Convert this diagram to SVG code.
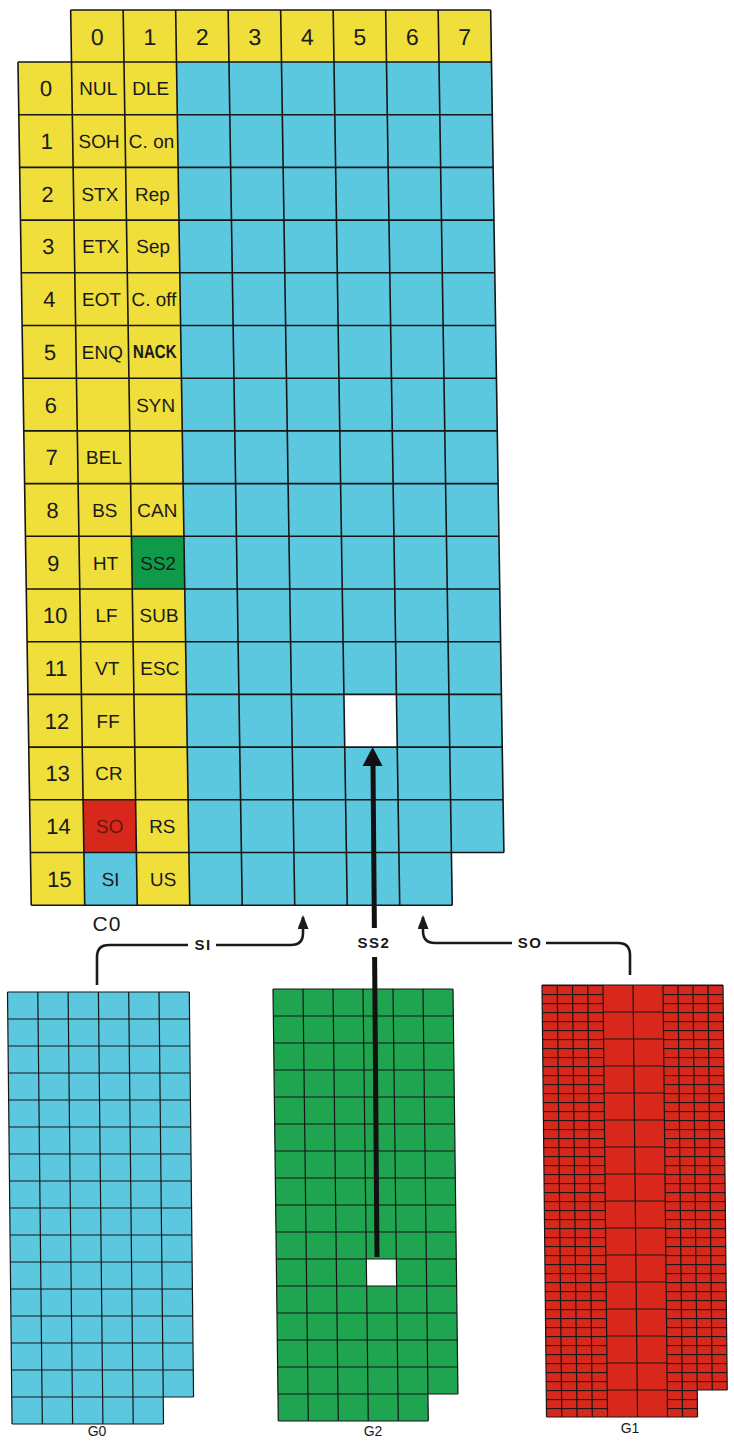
<svg xmlns="http://www.w3.org/2000/svg" width="734" height="1441" viewBox="0 0 734 1441">
<defs>
<style>
.y{fill:#F0DE3A}
.b{fill:#5CC8DF}
.g{fill:#1FA54F}
.r{fill:#D8281C}
.w{fill:#FFFFFF}
.gl{fill:none;stroke:#161616;stroke-width:1.6}
.gs{fill:none;stroke:#161616;stroke-width:1.2}
.t{font-family:"Liberation Sans",Arial,sans-serif;fill:#1a1a1a;text-anchor:middle}
.hd{font-size:23px}
.rl{font-size:22px}
.c{font-size:19px}
.lb{font-size:15px;font-weight:bold;letter-spacing:1.5px}
.gn{font-size:14px}
.cn{fill:none;stroke:#1a1a1a;stroke-width:2.6}
</style>
<pattern id="fine" width="20" height="9" patternUnits="userSpaceOnUse">
<rect width="20" height="9" fill="#D8281C"/>
<path d="M0 0.5H20" stroke="#161616" stroke-width="1.1"/>
</pattern>
<marker id="ah" viewBox="0 0 14 11" refX="12" refY="5.5" markerWidth="14" markerHeight="11" markerUnits="userSpaceOnUse" orient="auto">
<path d="M0 0L14 5.5L0 11Z" fill="#1a1a1a"/>
</marker>
</defs>
<rect width="734" height="1441" fill="#FFFFFF"/>

<g id="C0" transform="skewX(0.9)">
<rect class="y" x="70.5" y="10" width="420" height="52"/>
<rect class="y" x="17" y="62" width="158.5" height="843.2"/>
<rect class="b" x="175.5" y="62" width="315" height="790.5"/>
<rect class="b" x="175.5" y="852.5" width="262.5" height="52.7"/>
<rect class="g" x="123" y="536.3" width="52.5" height="52.7" style="fill:#0E9A48"/>
<rect class="r" x="70.5" y="799.8" width="52.5" height="52.7"/>
<rect class="b" x="70.5" y="852.5" width="52.5" height="52.7"/>
<rect class="w" x="333" y="694.4" width="52.5" height="52.7"/>
<path class="gl" d="M70.5 10H490.5M17 62H490.5M17 114.7H490.5M17 167.4H490.5M17 220.1H490.5M17 272.8H490.5M17 325.5H490.5M17 378.2H490.5M17 430.9H490.5M17 483.6H490.5M17 536.3H490.5M17 589H490.5M17 641.7H490.5M17 694.4H490.5M17 747.1H490.5M17 799.8H490.5M17 852.5H490.5M17 905.2H438M17 62V905.2M70.5 10V905.2M123 10V905.2M175.5 10V905.2M228 10V905.2M280.5 10V905.2M333 10V905.2M385.5 10V905.2M438 10V905.2M490.5 10V852.5"/>
<g class="t hd">
<text x="96.75" y="45">0</text><text x="149.25" y="45">1</text><text x="201.75" y="45">2</text><text x="254.25" y="45">3</text><text x="306.75" y="45">4</text><text x="359.25" y="45">5</text><text x="411.75" y="45">6</text><text x="464.25" y="45">7</text>
</g>
<g class="t rl">
<text x="44.5" y="96.4">0</text><text x="44.5" y="149">1</text><text x="44.5" y="201.8">2</text><text x="44.5" y="254.5">3</text><text x="44.5" y="307.2">4</text><text x="44.5" y="359.9">5</text><text x="44.5" y="412.6">6</text><text x="44.5" y="465.3">7</text><text x="44.5" y="518">8</text><text x="44.5" y="570.7">9</text><text x="45.5" y="623.4">10</text><text x="45.5" y="676">11</text><text x="45.5" y="728.8">12</text><text x="45.5" y="781.5">13</text><text x="45.5" y="834.2">14</text><text x="45.5" y="886.9">15</text>
</g>
<g class="t c">
<text x="96.75" y="95.4">NUL</text><text x="96.75" y="148">SOH</text><text x="96.75" y="200.8">STX</text><text x="96.75" y="253.5">ETX</text><text x="96.75" y="306.2">EOT</text><text x="96.75" y="358.9">ENQ</text><text x="96.75" y="464.3">BEL</text><text x="96.75" y="517">BS</text><text x="96.75" y="569.7">HT</text><text x="96.75" y="622.4">LF</text><text x="96.75" y="675">VT</text><text x="96.75" y="727.8">FF</text><text x="96.75" y="780.5">CR</text><text x="96.75" y="833.2" style="fill:#6A1510">SO</text><text x="96.75" y="885.9">SI</text>
<text x="149.25" y="95.4">DLE</text><text x="149.25" y="148">C. on</text><text x="149.25" y="200.8">Rep</text><text x="149.25" y="253.5">Sep</text><text x="149.25" y="306.2">C. off</text><text x="149.25" y="358.5" transform="translate(149.25,0) scale(0.8,1) translate(-149.25,0)" style="font-size:19px;font-weight:bold">NACK</text><text x="149.25" y="411.6">SYN</text><text x="149.25" y="517">CAN</text><text x="149.25" y="569.7">SS2</text><text x="149.25" y="622.4">SUB</text><text x="149.25" y="675">ESC</text><text x="149.25" y="833.2">RS</text><text x="149.25" y="885.9">US</text>
</g>
</g>
<text id="C0-label" class="t" x="107" y="931" style="font-size:21px;letter-spacing:1px">C0</text>

<g id="G0" transform="translate(7.5,992) skewX(0.6)">
<rect class="b" x="0" y="0" width="181.8" height="405"/>
<rect class="b" x="0" y="405" width="151.5" height="27"/>
<path class="gs" d="M0 0H181.8M0 27H181.8M0 54H181.8M0 81H181.8M0 108H181.8M0 135H181.8M0 162H181.8M0 189H181.8M0 216H181.8M0 243H181.8M0 270H181.8M0 297H181.8M0 324H181.8M0 351H181.8M0 378H181.8M0 405H181.8M0 432H151.5M0 0V432M30.3 0V432M60.6 0V432M90.9 0V432M121.2 0V432M151.5 0V432M181.8 0V405"/>
</g>
<text id="G0-label" class="t gn" x="97" y="1436">G0</text>

<g id="G2" transform="translate(273,989) skewX(0.7)">
<rect class="g" x="0" y="0" width="180" height="405"/>
<rect class="g" x="0" y="405" width="150" height="27"/>
<rect class="w" x="90" y="270" width="30" height="27"/>
<path class="gs" d="M0 0H180M0 27H180M0 54H180M0 81H180M0 108H180M0 135H180M0 162H180M0 189H180M0 216H180M0 243H180M0 270H180M0 297H180M0 324H180M0 351H180M0 378H180M0 405H180M0 432H150M0 0V432M30 0V432M60 0V432M90 0V432M120 0V432M150 0V432M180 0V405"/>
</g>
<text id="G2-label" class="t gn" x="373" y="1436">G2</text>

<g id="G1" transform="translate(542,985) skewX(0.6)">
<rect x="0" y="0" width="61" height="432" fill="url(#fine)"/>
<rect class="r" x="61" y="0" width="60" height="432"/>
<rect x="121" y="0" width="30" height="432" fill="url(#fine)"/>
<rect x="151" y="0" width="30" height="405" fill="url(#fine)"/>
<path class="gs" d="M61 27H121M61 54H121M61 81H121M61 108H121M61 135H121M61 162H121M61 189H121M61 216H121M61 243H121M61 270H121M61 297H121M61 324H121M61 351H121M61 378H121M61 405H121M0 0H181M0 432H151M151 405H181M0 0V432M15.25 0V432M30.5 0V432M45.75 0V432M61 0V432M91 0V432M121 0V432M136 0V432M151 0V432M166 0V405M181 0V405"/>
</g>
<text id="G1-label" class="t gn" x="630" y="1433">G1</text>

<g id="connectors">
<path class="cn" d="M97 985V957Q97 945 109 945H188"/>
<path class="cn" d="M216 945H291Q303 945 303 933V917" marker-end="url(#ah)"/>
<path class="cn" d="M630 975V955Q630 943 618 943H546"/>
<path class="cn" d="M512 943H435Q423 943 423 931V917" marker-end="url(#ah)"/>
<path d="M377 1257L374.6 957M374.4 928L373 764" fill="none" stroke="#111" stroke-width="5"/>
<path d="M372.6 747L362.6 766L382.6 766Z" fill="#111"/>
<text class="t lb" x="203" y="950">SI</text>
<text class="t lb" x="374" y="948">SS2</text>
<text class="t lb" x="530" y="948">SO</text>
</g>
</svg>
